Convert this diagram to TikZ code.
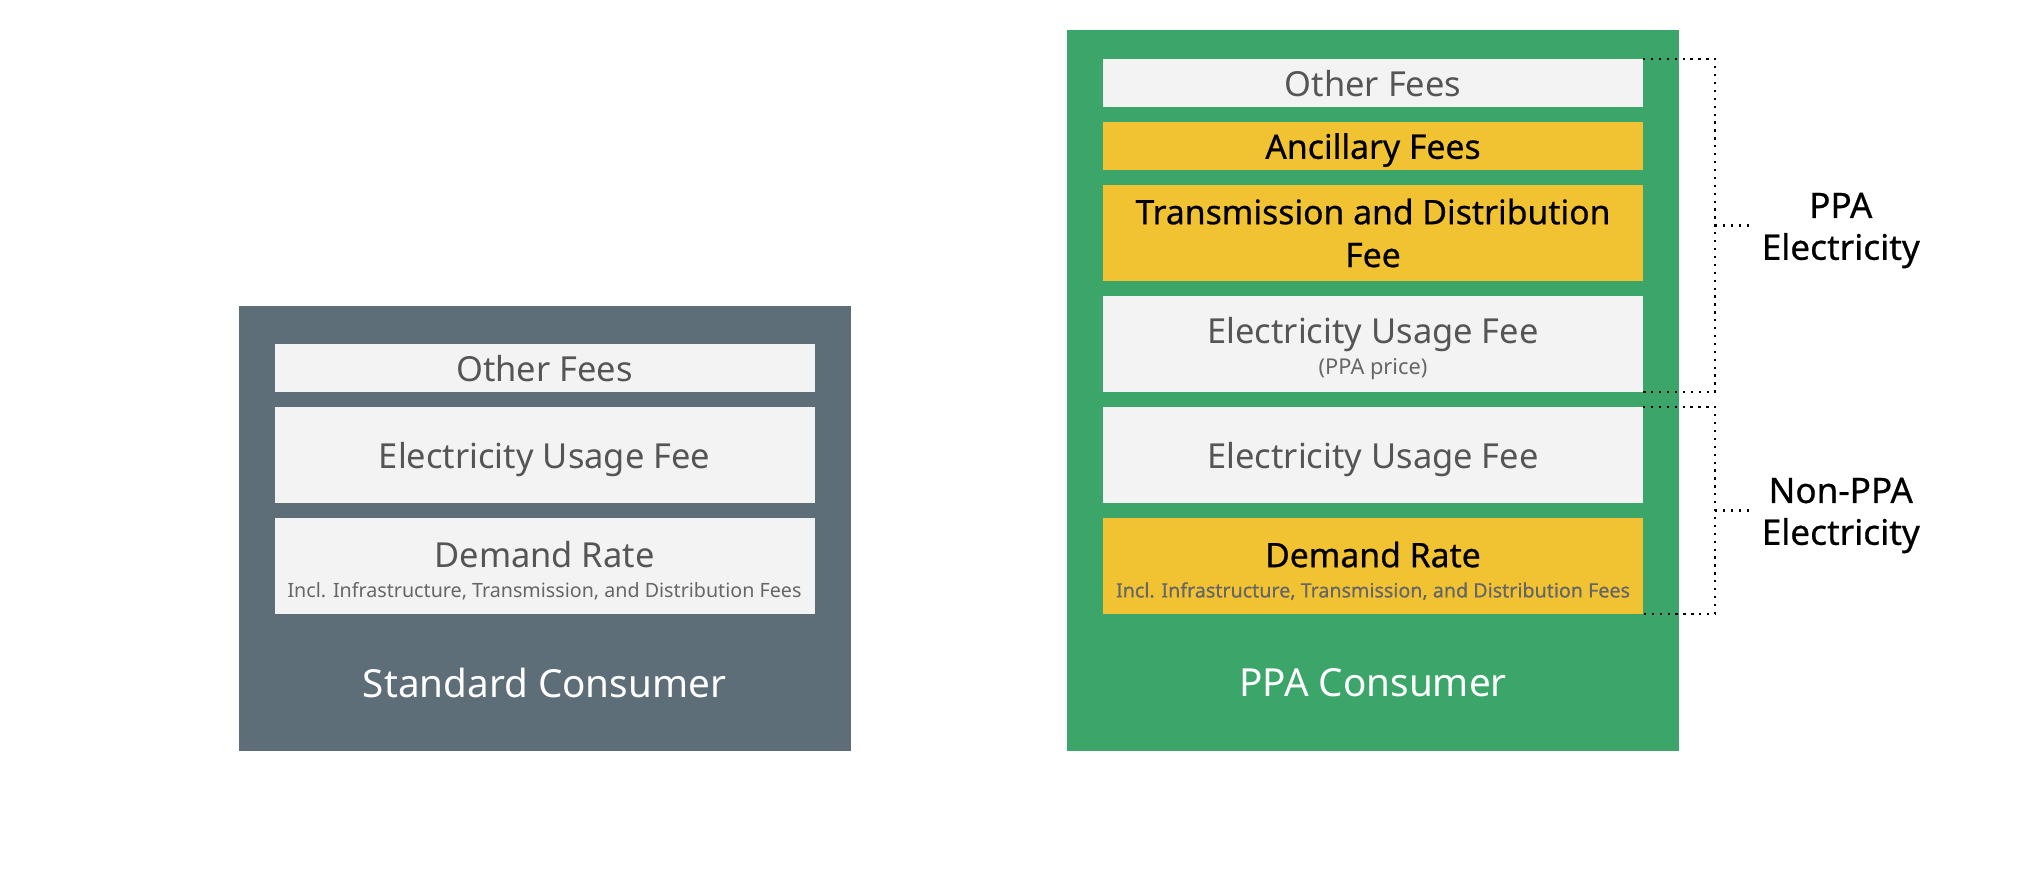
\documentclass[tikz,border=0pt]{standalone}
\usepackage{fontspec}
\setmainfont{Noto Sans}
\newfontfamily\medfont[FakeBold=0.6]{Noto Sans}
\usetikzlibrary{positioning, calc}

\definecolor{slate}{HTML}{5E6E79}
\definecolor{ppagreen}{HTML}{3CA66A}
\definecolor{feeyellow}{HTML}{F1C232}
\definecolor{feegray}{HTML}{F3F3F3}
\definecolor{feetext}{HTML}{555555}
\definecolor{subtext}{HTML}{666666}

% main line plus a small grey note under it
\newcommand{\withsub}[3][5.6]{\rule{0pt}{10pt}#2\\[-3.6pt]{\fontsize{#1}{7}\selectfont\color{subtext}#3}}

\begin{document}
\begin{tikzpicture}[
    panel/.style={inner sep=0pt, outer sep=0pt, minimum width=6.12cm},
    fee/.style={fill=feegray, text=feetext, inner sep=0pt, outer sep=0pt,
                align=center, minimum width=5.4cm, minimum height=0.48cm,
                font=\fontsize{9.8}{12.2}\selectfont},
    tall/.style={minimum height=0.96cm},
    flat/.style={text depth=0pt},
    hot/.style={fill=feeyellow, text=black, font=\fontsize{9.6}{12.2}\selectfont\medfont},
    owner/.style={text=white, font=\fontsize{11}{13}\selectfont},
    bracket/.style={line width=0.65pt, dash pattern=on 0.65pt off 1.6pt},
    share/.style={align=center, inner sep=0pt, yshift=-0.05cm,
                  font=\fontsize{10}{11.9}\selectfont\medfont}
  ]
  \useasboundingbox (0,0) rectangle (20.42,8.68);

  %--- standard consumer (left)
  \node[panel, fill=slate, minimum height=4.45cm] (std) at (5.445,3.395) {};
  \node[fee, flat, below=0.38cm of std.north] (stdOther) {Other Fees};
  \node[fee, flat, tall, below=0.15cm of stdOther] (stdUsage) {Electricity Usage Fee};
  \node[fee, tall, below=0.15cm of stdUsage] (stdDemand)
    {\withsub{Demand Rate}{Incl. Infrastructure, Transmission, and Distribution Fees}};
  \node[owner] (stdName) at ($(std.south)+(0,0.68)$) {Standard Consumer};

  %--- PPA consumer (right)
  \node[panel, fill=ppagreen, minimum height=7.21cm] (ppa) at (13.73,4.775) {};
  \node[fee, flat, below=0.29cm of ppa.north] (ppaOther) {Other Fees};
  \node[fee, hot, flat, below=0.15cm of ppaOther] (ppaAnc) {Ancillary Fees};
  \node[fee, hot, tall, below=0.15cm of ppaAnc] (ppaTD)
    {Transmission and Distribution\\Fee};
  \node[fee, tall, below=0.15cm of ppaTD] (ppaPrice)
    {\withsub[6.2]{Electricity Usage Fee}{(PPA price)}};
  \node[fee, flat, tall, below=0.15cm of ppaPrice] (ppaUsage) {Electricity Usage Fee};
  \node[fee, hot, tall, below=0.15cm of ppaUsage] (ppaDemand)
    {\withsub{Demand Rate}{Incl. Infrastructure, Transmission, and Distribution Fees}};
  \node[owner] (ppaName) at ($(ppa.south)+(0,0.68)$) {PPA Consumer};

  % x of the dotted rails
  \def\bx{17.15}
  % length of the small tick
  \def\tick{0.36}

  %--- PPA share bracket
  \coordinate (ppaMid) at ($(ppaOther.north east -| \bx,0)!0.5!(ppaPrice.south east -| \bx,0)$);
  \node[share, right=0.46cm of ppaMid] (ppaLbl) {PPA\\Electricity};
  \draw[bracket] (ppaOther.north east) -- (ppaOther.north east -| ppaMid)
    |- (ppaPrice.south east);
  \draw[bracket] (ppaMid) -- ++(\tick,0);

  %--- non-PPA share bracket
  \coordinate (gridMid) at ($(ppaUsage.north east -| \bx,0)!0.5!(ppaDemand.south east -| \bx,0)$);
  \node[share, right=0.46cm of gridMid] (gridLbl) {Non-PPA\\Electricity};
  \draw[bracket] (ppaUsage.north east) -- (ppaUsage.north east -| gridMid)
    |- (ppaDemand.south east);
  \draw[bracket] (gridMid) -- ++(\tick,0);
\end{tikzpicture}
\end{document}
